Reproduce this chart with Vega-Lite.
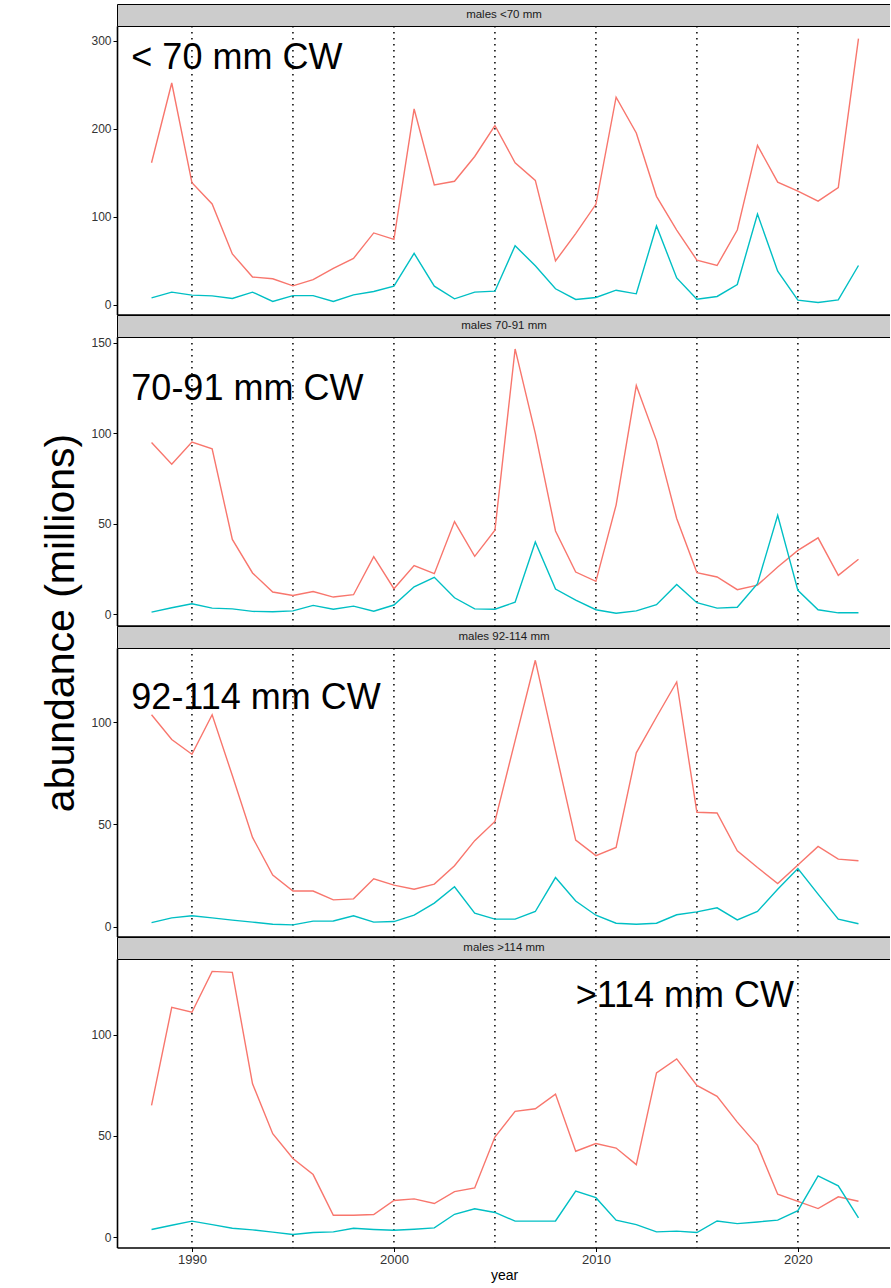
{
"$schema": "https://vega.github.io/schema/vega-lite/v6.json",
"padding": {"left": 40, "top": 3, "right": -2, "bottom": 0},
"background": "white",
"title": {"text": "abundance (millions)", "orient": "left", "anchor": "middle", "fontSize": 41, "font": "Liberation Sans", "fontWeight": "normal", "color": "#000", "offset": 8, "dx": 20},
"spacing": 0,
"bounds": "flush",
"datasets": {
"abund": [
{"panel":"males <70 mm","year":1988,"A":161.6,"B":8.0},
{"panel":"males <70 mm","year":1989,"A":252.2,"B":14.5},
{"panel":"males <70 mm","year":1990,"A":139.0,"B":11.1},
{"panel":"males <70 mm","year":1991,"A":114.8,"B":10.3},
{"panel":"males <70 mm","year":1992,"A":57.9,"B":7.3},
{"panel":"males <70 mm","year":1993,"A":31.7,"B":14.5},
{"panel":"males <70 mm","year":1994,"A":29.7,"B":3.9},
{"panel":"males <70 mm","year":1995,"A":21.7,"B":10.6},
{"panel":"males <70 mm","year":1996,"A":28.7,"B":10.6},
{"panel":"males <70 mm","year":1997,"A":41.5,"B":3.9},
{"panel":"males <70 mm","year":1998,"A":52.9,"B":11.4},
{"panel":"males <70 mm","year":1999,"A":81.8,"B":15.2},
{"panel":"males <70 mm","year":2000,"A":74.5,"B":21.3},
{"panel":"males <70 mm","year":2001,"A":222.7,"B":58.6},
{"panel":"males <70 mm","year":2002,"A":136.4,"B":21.3},
{"panel":"males <70 mm","year":2003,"A":140.5,"B":6.9},
{"panel":"males <70 mm","year":2004,"A":168.7,"B":14.5},
{"panel":"males <70 mm","year":2005,"A":203.9,"B":15.6},
{"panel":"males <70 mm","year":2006,"A":161.6,"B":67.3},
{"panel":"males <70 mm","year":2007,"A":141.5,"B":44.4},
{"panel":"males <70 mm","year":2008,"A":49.9,"B":18.3},
{"panel":"males <70 mm","year":2009,"A":81.1,"B":6.2},
{"panel":"males <70 mm","year":2010,"A":114.3,"B":8.4},
{"panel":"males <70 mm","year":2011,"A":236.1,"B":16.7},
{"panel":"males <70 mm","year":2012,"A":195.4,"B":12.6},
{"panel":"males <70 mm","year":2013,"A":123.4,"B":89.7},
{"panel":"males <70 mm","year":2014,"A":85.1,"B":30.7},
{"panel":"males <70 mm","year":2015,"A":50.9,"B":6.5},
{"panel":"males <70 mm","year":2016,"A":44.8,"B":9.6},
{"panel":"males <70 mm","year":2017,"A":85.1,"B":23.2},
{"panel":"males <70 mm","year":2018,"A":181.3,"B":103.2},
{"panel":"males <70 mm","year":2019,"A":139.5,"B":38.4},
{"panel":"males <70 mm","year":2020,"A":129.4,"B":5.4},
{"panel":"males <70 mm","year":2021,"A":117.9,"B":2.7},
{"panel":"males <70 mm","year":2022,"A":133.4,"B":5.7},
{"panel":"males <70 mm","year":2023,"A":302.6,"B":44.8},
{"panel":"males 70-91 mm","year":1988,"A":94.9,"B":1.3},
{"panel":"males 70-91 mm","year":1989,"A":82.9,"B":3.7},
{"panel":"males 70-91 mm","year":1990,"A":95.2,"B":5.9},
{"panel":"males 70-91 mm","year":1991,"A":91.5,"B":3.5},
{"panel":"males 70-91 mm","year":1992,"A":41.4,"B":3.1},
{"panel":"males 70-91 mm","year":1993,"A":22.9,"B":1.7},
{"panel":"males 70-91 mm","year":1994,"A":12.4,"B":1.5},
{"panel":"males 70-91 mm","year":1995,"A":10.5,"B":2.0},
{"panel":"males 70-91 mm","year":1996,"A":12.7,"B":5.0},
{"panel":"males 70-91 mm","year":1997,"A":9.6,"B":2.9},
{"panel":"males 70-91 mm","year":1998,"A":10.9,"B":4.6},
{"panel":"males 70-91 mm","year":1999,"A":31.9,"B":1.8},
{"panel":"males 70-91 mm","year":2000,"A":14.2,"B":5.2},
{"panel":"males 70-91 mm","year":2001,"A":27.0,"B":15.3},
{"panel":"males 70-91 mm","year":2002,"A":22.5,"B":20.5},
{"panel":"males 70-91 mm","year":2003,"A":51.3,"B":9.2},
{"panel":"males 70-91 mm","year":2004,"A":32.1,"B":3.1},
{"panel":"males 70-91 mm","year":2005,"A":46.5,"B":2.9},
{"panel":"males 70-91 mm","year":2006,"A":146.6,"B":6.8},
{"panel":"males 70-91 mm","year":2007,"A":100.0,"B":40.0},
{"panel":"males 70-91 mm","year":2008,"A":46.1,"B":14.0},
{"panel":"males 70-91 mm","year":2009,"A":23.4,"B":7.9},
{"panel":"males 70-91 mm","year":2010,"A":18.3,"B":2.6},
{"panel":"males 70-91 mm","year":2011,"A":60.4,"B":0.7},
{"panel":"males 70-91 mm","year":2012,"A":126.4,"B":2.0},
{"panel":"males 70-91 mm","year":2013,"A":96.0,"B":5.4},
{"panel":"males 70-91 mm","year":2014,"A":53.0,"B":16.6},
{"panel":"males 70-91 mm","year":2015,"A":23.1,"B":6.5},
{"panel":"males 70-91 mm","year":2016,"A":20.7,"B":3.5},
{"panel":"males 70-91 mm","year":2017,"A":13.7,"B":4.0},
{"panel":"males 70-91 mm","year":2018,"A":16.2,"B":17.0},
{"panel":"males 70-91 mm","year":2019,"A":26.2,"B":54.8},
{"panel":"males 70-91 mm","year":2020,"A":35.4,"B":13.3},
{"panel":"males 70-91 mm","year":2021,"A":42.3,"B":2.6},
{"panel":"males 70-91 mm","year":2022,"A":21.6,"B":0.9},
{"panel":"males 70-91 mm","year":2023,"A":30.5,"B":0.9},
{"panel":"males 92-114 mm","year":1988,"A":103.6,"B":2.1},
{"panel":"males 92-114 mm","year":1989,"A":91.5,"B":4.4},
{"panel":"males 92-114 mm","year":1990,"A":84.3,"B":5.4},
{"panel":"males 92-114 mm","year":1991,"A":103.6,"B":4.4},
{"panel":"males 92-114 mm","year":1992,"A":73.9,"B":3.3},
{"panel":"males 92-114 mm","year":1993,"A":43.7,"B":2.3},
{"panel":"males 92-114 mm","year":1994,"A":25.3,"B":1.3},
{"panel":"males 92-114 mm","year":1995,"A":17.5,"B":1.0},
{"panel":"males 92-114 mm","year":1996,"A":17.5,"B":2.8},
{"panel":"males 92-114 mm","year":1997,"A":13.2,"B":2.9},
{"panel":"males 92-114 mm","year":1998,"A":13.7,"B":5.4},
{"panel":"males 92-114 mm","year":1999,"A":23.5,"B":2.3},
{"panel":"males 92-114 mm","year":2000,"A":20.4,"B":2.6},
{"panel":"males 92-114 mm","year":2001,"A":18.4,"B":5.7},
{"panel":"males 92-114 mm","year":2002,"A":20.9,"B":11.6},
{"panel":"males 92-114 mm","year":2003,"A":29.9,"B":19.6},
{"panel":"males 92-114 mm","year":2004,"A":42.1,"B":6.7},
{"panel":"males 92-114 mm","year":2005,"A":51.5,"B":3.8},
{"panel":"males 92-114 mm","year":2006,"A":91.0,"B":3.8},
{"panel":"males 92-114 mm","year":2007,"A":130.2,"B":7.5},
{"panel":"males 92-114 mm","year":2008,"A":86.1,"B":24.1},
{"panel":"males 92-114 mm","year":2009,"A":42.4,"B":12.6},
{"panel":"males 92-114 mm","year":2010,"A":34.8,"B":5.7},
{"panel":"males 92-114 mm","year":2011,"A":38.8,"B":1.8},
{"panel":"males 92-114 mm","year":2012,"A":85.0,"B":1.3},
{"panel":"males 92-114 mm","year":2013,"A":102.5,"B":1.8},
{"panel":"males 92-114 mm","year":2014,"A":119.6,"B":5.9},
{"panel":"males 92-114 mm","year":2015,"A":56.0,"B":7.3},
{"panel":"males 92-114 mm","year":2016,"A":55.6,"B":9.3},
{"panel":"males 92-114 mm","year":2017,"A":37.2,"B":3.4},
{"panel":"males 92-114 mm","year":2018,"A":29.0,"B":7.5},
{"panel":"males 92-114 mm","year":2019,"A":21.2,"B":18.4},
{"panel":"males 92-114 mm","year":2020,"A":30.2,"B":28.5},
{"panel":"males 92-114 mm","year":2021,"A":39.3,"B":16.0},
{"panel":"males 92-114 mm","year":2022,"A":33.1,"B":3.8},
{"panel":"males 92-114 mm","year":2023,"A":32.3,"B":1.5},
{"panel":"males >114 mm","year":1988,"A":65.0,"B":3.8},
{"panel":"males >114 mm","year":1989,"A":113.4,"B":5.9},
{"panel":"males >114 mm","year":1990,"A":111.0,"B":7.9},
{"panel":"males >114 mm","year":1991,"A":131.2,"B":6.2},
{"panel":"males >114 mm","year":1992,"A":130.7,"B":4.4},
{"panel":"males >114 mm","year":1993,"A":75.7,"B":3.6},
{"panel":"males >114 mm","year":1994,"A":51.1,"B":2.5},
{"panel":"males >114 mm","year":1995,"A":38.8,"B":1.3},
{"panel":"males >114 mm","year":1996,"A":30.9,"B":2.3},
{"panel":"males >114 mm","year":1997,"A":10.8,"B":2.6},
{"panel":"males >114 mm","year":1998,"A":10.8,"B":4.4},
{"panel":"males >114 mm","year":1999,"A":11.2,"B":3.8},
{"panel":"males >114 mm","year":2000,"A":18.1,"B":3.4},
{"panel":"males >114 mm","year":2001,"A":18.9,"B":3.9},
{"panel":"males >114 mm","year":2002,"A":16.6,"B":4.6},
{"panel":"males >114 mm","year":2003,"A":22.5,"B":11.3},
{"panel":"males >114 mm","year":2004,"A":24.3,"B":14.0},
{"panel":"males >114 mm","year":2005,"A":49.4,"B":12.2},
{"panel":"males >114 mm","year":2006,"A":62.1,"B":7.9},
{"panel":"males >114 mm","year":2007,"A":63.4,"B":7.9},
{"panel":"males >114 mm","year":2008,"A":70.6,"B":8.0},
{"panel":"males >114 mm","year":2009,"A":42.4,"B":22.7},
{"panel":"males >114 mm","year":2010,"A":46.2,"B":19.5},
{"panel":"males >114 mm","year":2011,"A":44.0,"B":8.4},
{"panel":"males >114 mm","year":2012,"A":35.8,"B":6.2},
{"panel":"males >114 mm","year":2013,"A":81.1,"B":2.6},
{"panel":"males >114 mm","year":2014,"A":88.0,"B":3.0},
{"panel":"males >114 mm","year":2015,"A":74.9,"B":2.3},
{"panel":"males >114 mm","year":2016,"A":69.5,"B":8.0},
{"panel":"males >114 mm","year":2017,"A":56.8,"B":6.7},
{"panel":"males >114 mm","year":2018,"A":45.3,"B":7.5},
{"panel":"males >114 mm","year":2019,"A":21.2,"B":8.4},
{"panel":"males >114 mm","year":2020,"A":17.7,"B":13.1},
{"panel":"males >114 mm","year":2021,"A":14.1,"B":30.2},
{"panel":"males >114 mm","year":2022,"A":19.9,"B":25.3},
{"panel":"males >114 mm","year":2023,"A":17.7,"B":9.5}
],
"strips": [{"panel":"males <70 mm"},{"panel":"males 70-91 mm"},{"panel":"males 92-114 mm"},{"panel":"males >114 mm"}],
"vlines": [{"year":1990},{"year":1995},{"year":2000},{"year":2005},{"year":2010},{"year":2015},{"year":2020}],
"labels": [
{"panel":"males <70 mm","label":"< 70 mm CW","year":1987,"value":268},
{"panel":"males 70-91 mm","label":"70-91 mm CW","year":1987,"value":118.5},
{"panel":"males 92-114 mm","label":"92-114 mm CW","year":1987,"value":106.6},
{"panel":"males >114 mm","label":">114 mm CW","year":2009,"value":113.8}
]
},
"vconcat": [
 {"width": 774, "height": 22, "view": {"fill": "#cccccc", "stroke": "#000", "strokeWidth": 1}, "data": {"name": "strips"}, "transform": [{"filter": "datum.panel === 'males <70 mm'"}], "mark": {"type": "text", "fontSize": 11.5, "color": "#1a1a1a", "baseline": "middle", "font": "Liberation Sans"}, "encoding": {"text": {"field": "panel"}}},
 {"width": 774, "height": 288.5, "view": {"stroke": null}, "layer": [
  {"data": {"name": "vlines"}, "mark": {"type": "rule", "strokeDash": [1.5, 4.5], "strokeWidth": 1.5, "color": "#000"}, "encoding": {"x": {"field": "year", "type": "quantitative", "scale": {"domain": [1986.29, 2024.61], "nice": false, "zero": false}, "axis": {"values": [1990, 2000, 2010, 2020], "labels": false, "title": null}}}},
  {"data": {"name": "abund"}, "transform": [{"filter": "datum.panel === 'males <70 mm'"}, {"fold": ["A", "B"], "as": ["series", "value"]}], "mark": {"type": "line", "strokeWidth": 1.4}, "encoding": {"x": {"field": "year", "type": "quantitative", "scale": {"domain": [1986.29, 2024.61], "nice": false, "zero": false}}, "y": {"field": "value", "type": "quantitative", "scale": {"domain": [-10.9, 317], "nice": false, "zero": false}, "axis": {"values": [0, 100, 200, 300], "title": null}}, "color": {"field": "series", "type": "nominal", "scale": {"domain": ["A", "B"], "range": ["#F8766D", "#00BFC4"]}, "legend": null}}},
  {"data": {"name": "labels"}, "transform": [{"filter": "datum.panel === 'males <70 mm'"}], "mark": {"type": "text", "align": "left", "baseline": "alphabetic", "fontSize": 36, "font": "Liberation Sans", "color": "#000"}, "encoding": {"x": {"field": "year", "type": "quantitative"}, "y": {"field": "value", "type": "quantitative"}, "text": {"field": "label"}}}
 ]},
 {"width": 774, "height": 22, "view": {"fill": "#cccccc", "stroke": "#000", "strokeWidth": 1}, "data": {"name": "strips"}, "transform": [{"filter": "datum.panel === 'males 70-91 mm'"}], "mark": {"type": "text", "fontSize": 11.5, "color": "#1a1a1a", "baseline": "middle", "font": "Liberation Sans"}, "encoding": {"text": {"field": "panel"}}},
 {"width": 774, "height": 288.5, "view": {"stroke": null}, "layer": [
  {"data": {"name": "vlines"}, "mark": {"type": "rule", "strokeDash": [1.5, 4.5], "strokeWidth": 1.5, "color": "#000"}, "encoding": {"x": {"field": "year", "type": "quantitative", "scale": {"domain": [1986.29, 2024.61], "nice": false, "zero": false}, "axis": {"values": [1990, 2000, 2010, 2020], "labels": false, "title": null}}}},
  {"data": {"name": "abund"}, "transform": [{"filter": "datum.panel === 'males 70-91 mm'"}, {"fold": ["A", "B"], "as": ["series", "value"]}], "mark": {"type": "line", "strokeWidth": 1.4}, "encoding": {"x": {"field": "year", "type": "quantitative", "scale": {"domain": [1986.29, 2024.61], "nice": false, "zero": false}}, "y": {"field": "value", "type": "quantitative", "scale": {"domain": [-6.1, 153.2], "nice": false, "zero": false}, "axis": {"values": [0, 50, 100, 150], "title": null}}, "color": {"field": "series", "type": "nominal", "scale": {"domain": ["A", "B"], "range": ["#F8766D", "#00BFC4"]}, "legend": null}}},
  {"data": {"name": "labels"}, "transform": [{"filter": "datum.panel === 'males 70-91 mm'"}], "mark": {"type": "text", "align": "left", "baseline": "alphabetic", "fontSize": 36, "font": "Liberation Sans", "color": "#000"}, "encoding": {"x": {"field": "year", "type": "quantitative"}, "y": {"field": "value", "type": "quantitative"}, "text": {"field": "label"}}}
 ]},
 {"width": 774, "height": 22, "view": {"fill": "#cccccc", "stroke": "#000", "strokeWidth": 1}, "data": {"name": "strips"}, "transform": [{"filter": "datum.panel === 'males 92-114 mm'"}], "mark": {"type": "text", "fontSize": 11.5, "color": "#1a1a1a", "baseline": "middle", "font": "Liberation Sans"}, "encoding": {"text": {"field": "panel"}}},
 {"width": 774, "height": 288.5, "view": {"stroke": null}, "layer": [
  {"data": {"name": "vlines"}, "mark": {"type": "rule", "strokeDash": [1.5, 4.5], "strokeWidth": 1.5, "color": "#000"}, "encoding": {"x": {"field": "year", "type": "quantitative", "scale": {"domain": [1986.29, 2024.61], "nice": false, "zero": false}, "axis": {"values": [1990, 2000, 2010, 2020], "labels": false, "title": null}}}},
  {"data": {"name": "abund"}, "transform": [{"filter": "datum.panel === 'males 92-114 mm'"}, {"fold": ["A", "B"], "as": ["series", "value"]}], "mark": {"type": "line", "strokeWidth": 1.4}, "encoding": {"x": {"field": "year", "type": "quantitative", "scale": {"domain": [1986.29, 2024.61], "nice": false, "zero": false}}, "y": {"field": "value", "type": "quantitative", "scale": {"domain": [-4.7, 136.2], "nice": false, "zero": false}, "axis": {"values": [0, 50, 100], "title": null}}, "color": {"field": "series", "type": "nominal", "scale": {"domain": ["A", "B"], "range": ["#F8766D", "#00BFC4"]}, "legend": null}}},
  {"data": {"name": "labels"}, "transform": [{"filter": "datum.panel === 'males 92-114 mm'"}], "mark": {"type": "text", "align": "left", "baseline": "alphabetic", "fontSize": 36, "font": "Liberation Sans", "color": "#000"}, "encoding": {"x": {"field": "year", "type": "quantitative"}, "y": {"field": "value", "type": "quantitative"}, "text": {"field": "label"}}}
 ]},
 {"width": 774, "height": 22, "view": {"fill": "#cccccc", "stroke": "#000", "strokeWidth": 1}, "data": {"name": "strips"}, "transform": [{"filter": "datum.panel === 'males >114 mm'"}], "mark": {"type": "text", "fontSize": 11.5, "color": "#1a1a1a", "baseline": "middle", "font": "Liberation Sans"}, "encoding": {"text": {"field": "panel"}}},
 {"width": 774, "height": 288.5, "view": {"stroke": null}, "layer": [
  {"data": {"name": "vlines"}, "mark": {"type": "rule", "strokeDash": [1.5, 4.5], "strokeWidth": 1.5, "color": "#000"}, "encoding": {"x": {"field": "year", "type": "quantitative", "scale": {"domain": [1986.29, 2024.61], "nice": false, "zero": false}, "axis": {"values": [1990, 2000, 2010, 2020], "format": "d", "title": "year"}}}},
  {"data": {"name": "abund"}, "transform": [{"filter": "datum.panel === 'males >114 mm'"}, {"fold": ["A", "B"], "as": ["series", "value"]}], "mark": {"type": "line", "strokeWidth": 1.4}, "encoding": {"x": {"field": "year", "type": "quantitative", "scale": {"domain": [1986.29, 2024.61], "nice": false, "zero": false}}, "y": {"field": "value", "type": "quantitative", "scale": {"domain": [-5.1, 137.3], "nice": false, "zero": false}, "axis": {"values": [0, 50, 100], "title": null}}, "color": {"field": "series", "type": "nominal", "scale": {"domain": ["A", "B"], "range": ["#F8766D", "#00BFC4"]}, "legend": null}}},
  {"data": {"name": "labels"}, "transform": [{"filter": "datum.panel === 'males >114 mm'"}], "mark": {"type": "text", "align": "left", "baseline": "alphabetic", "fontSize": 36, "font": "Liberation Sans", "color": "#000"}, "encoding": {"x": {"field": "year", "type": "quantitative"}, "y": {"field": "value", "type": "quantitative"}, "text": {"field": "label"}}}
 ]}
],
"config": {
 "axis": {"grid": false, "domainColor": "#000", "domainWidth": 1.6, "tickColor": "#000", "tickSize": 4, "tickWidth": 1, "labelFont": "Liberation Sans", "labelFontSize": 12.5, "labelColor": "#333", "labelPadding": 2, "titleFont": "Liberation Sans", "titleFontSize": 14, "titleFontWeight": "normal", "titleColor": "#000", "titlePadding": 2},
 "axisY": {"labelFontSize": 12},
 "axisX": {"labelFontSize": 13}
}
}
